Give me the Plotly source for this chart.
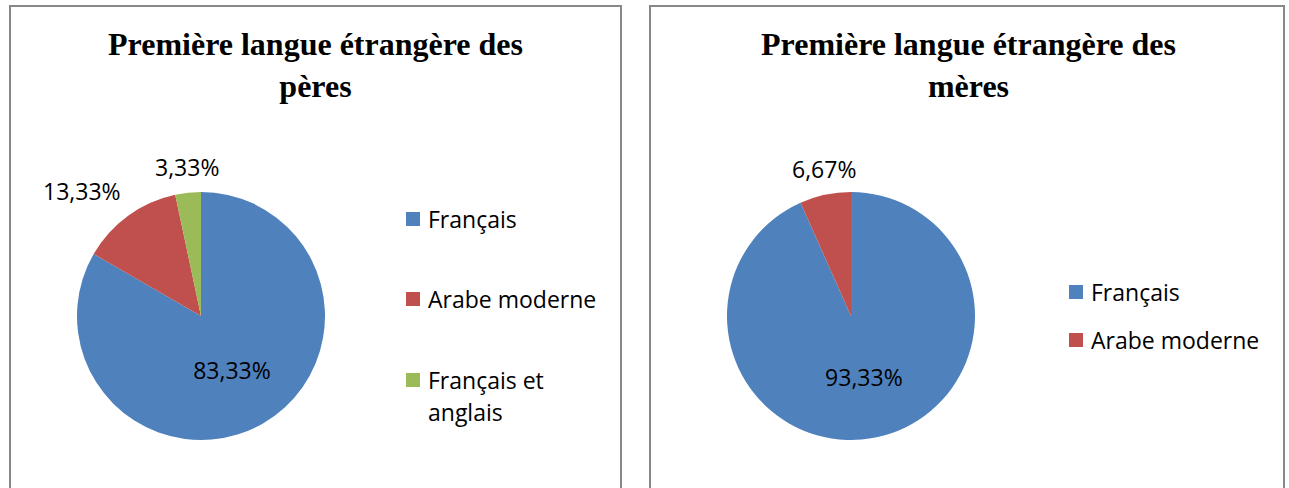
import math
import plotly.graph_objects as go

# ---- data ----
categories_peres = ["Français", "Arabe moderne", "Français et anglais"]
values_peres = [83.33, 13.33, 3.33]
categories_meres = ["Français", "Arabe moderne"]
values_meres = [93.33, 6.67]
colors = ["#4F81BD", "#C0504D", "#9BBB59"]
title_peres = "Première langue étrangère des<br>pères"
title_meres = "Première langue étrangère des<br>mères"

W, H = 1289, 488
FONT = "Open Sans"
FS = 23

def px(x):
    return x / W

def py(y):
    return 1 - y / H

fig = go.Figure()
shapes = []
annotations = []

def fmt(v):
    return f"{v:.2f}".replace(".", ",") + "%"

def add_pie(labels, values, cx, cy, r, inside):
    fig.add_trace(go.Pie(
        labels=labels, values=values,
        marker=dict(colors=colors[:len(labels)]),
        sort=False, direction="clockwise", rotation=0,
        text=[fmt(v) if ins else "" for v, ins in zip(values, inside)],
        texttemplate="%{text}",
        textposition="inside",
        insidetextorientation="horizontal",
        textfont=dict(family=FONT, size=FS, color="#000000"),
        showlegend=False,
        domain=dict(x=[px(cx - r), px(cx + r)], y=[py(cy + r), py(cy - r)]),
        hoverinfo="label+value",
    ))
    # outside-end labels for small slices, placed at the slice's mid angle
    total = sum(values)
    start = 0.0
    for v, ins in zip(values, inside):
        mid = (start + v / 2) / total * 2 * math.pi
        start += v
        if ins:
            continue
        s, c = math.sin(mid), math.cos(mid)
        gx, gy = cx + (r + 8) * s, cy - (r + 8) * c
        xa = "right" if s < -0.3 else ("left" if s > 0.3 else "center")
        ya = "bottom" if c > 0.3 else ("top" if c < -0.3 else "middle")
        annotations.append(dict(text=fmt(v), xref="paper", yref="paper",
                                x=px(gx), y=py(gy), xanchor=xa, yanchor=ya,
                                showarrow=False,
                                font=dict(family=FONT, size=FS, color="#000000")))

add_pie(categories_peres, values_peres, 201, 316, 124, [True, False, False])
add_pie(categories_meres, values_meres, 851, 316, 124, [True, False])

# panel borders
for x0, x1 in [(10, 621), (650, 1284)]:
    shapes.append(dict(type="rect", xref="paper", yref="paper",
                       x0=px(x0), x1=px(x1), y0=py(500), y1=py(6),
                       line=dict(color="#888888", width=2), fillcolor="rgba(0,0,0,0)"))

# titles
for text, cx in [(title_peres, 315), (title_meres, 968)]:
    annotations.append(dict(text="<b>" + text + "</b>", xref="paper", yref="paper",
                            x=px(cx), y=py(65), xanchor="center", yanchor="middle",
                            showarrow=False,
                            font=dict(family="Liberation Serif", size=32, color="#000000")))

# manual legends
def legend(labels, x, ys, wraps):
    for i, (lab, y) in enumerate(zip(labels, ys)):
        shapes.append(dict(type="rect", xref="paper", yref="paper",
                           x0=px(x), x1=px(x + 14), y0=py(y + 7), y1=py(y - 7),
                           line=dict(width=0), fillcolor=colors[i]))
        lines = wraps.get(lab, [lab])
        for j, ln in enumerate(lines):
            annotations.append(dict(text=ln, xref="paper", yref="paper",
                                    x=px(x + 20), y=py(y + j * 32), xanchor="left", yanchor="middle",
                                    showarrow=False,
                                    font=dict(family=FONT, size=FS, color="#000000")))

legend(categories_peres, 406, [219, 299, 380], {"Français et anglais": ["Français et", "anglais"]})
legend(categories_meres, 1069, [292, 340], {})

fig.update_layout(
    width=W, height=H,
    margin=dict(l=0, r=0, t=0, b=0),
    paper_bgcolor="white", plot_bgcolor="white",
    shapes=shapes, annotations=annotations,
)

fig.write_html("out.html",
               config={"displayModeBar": False},
               post_script="document.body.style.margin='0';document.body.style.overflow='hidden';")
